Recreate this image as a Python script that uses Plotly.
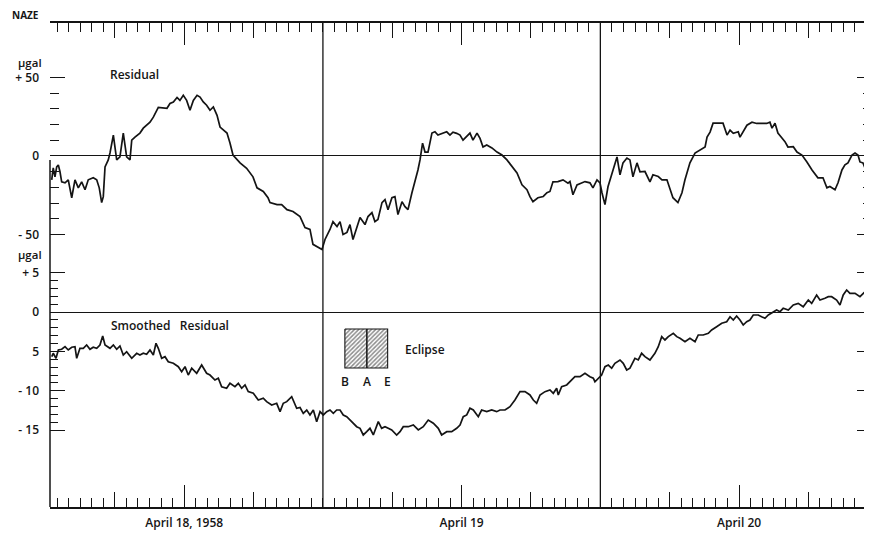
import plotly.graph_objects as go

# ---------------- data (hours since 00h April 18, 1958) ----------------
res_hours_a = [0.54, 0.67, 0.82, 0.97, 1.11, 1.25, 1.40, 1.69, 1.97, 2.27,
               2.55, 2.84, 3.13, 3.42, 3.70, 4.13, 4.43, 4.65, 4.86, 5.00,
               5.15, 5.43, 5.58, 5.87, 6.16, 6.44, 6.73, 7.02, 7.31, 7.46,
               7.74, 8.17, 8.46, 8.75, 9.04, 9.33, 9.76, 10.51, 10.77, 11.06,
               11.38, 11.63, 11.92, 12.21, 12.50, 12.79, 13.11, 13.37, 13.65, 13.94,
               14.23, 14.52, 14.84, 15.10, 15.38, 15.70, 15.96, 16.22, 16.83, 17.40,
               17.95, 18.30, 18.84, 19.25, 19.42, 20.03, 20.43, 20.89, 21.41, 21.84,
               22.02, 22.45, 22.88, 23.14, 23.57, 23.92]
res_values_a = [-15.2, -7.6, -13.3, -7.0, -5.7, -9.9, -16.5, -17.1, -15.2, -26.6,
                -15.2, -20.3, -16.5, -21.5, -15.2, -13.9, -15.2, -20.3, -29.7, -25.9,
                -7.0, -2.5, 1.9, 13.3, -2.5, -0.6, 14.6, -0.6, -2.5, 10.1,
                12.0, 14.6, 17.7, 19.6, 21.5, 24.7, 31.0, 30.4, 33.4, 34.4,
                37.3, 35.4, 38.6, 35.4, 29.1, 35.4, 38.6, 37.5, 34.4, 32.3,
                29.1, 31.2, 25.9, 18.4, 16.5, 14.6, 8.2, 0.6, -4.4, -7.8,
                -13.3, -20.3, -22.6, -26.6, -29.7, -31.0, -31.0, -34.2, -35.4, -37.3,
                -38.6, -45.6, -46.8, -56.3, -58.2, -59.5]
res_hours_b = [24.18, 24.61, 24.87, 25.22,
               25.48, 25.74, 26.08, 26.34, 26.60, 26.95, 27.21, 27.64, 27.90, 28.24,
               28.50, 28.76, 29.11, 29.37, 29.63, 29.97, 30.23, 30.49, 30.84, 31.10,
               31.36, 31.70, 31.96, 32.22, 32.40, 32.62, 32.83, 33.09, 33.43, 33.69,
               33.95, 34.41, 34.71, 34.99, 35.25, 35.57, 35.86, 36.12, 36.44, 36.72,
               36.98, 37.33, 37.59, 37.85, 38.17, 38.62, 39.06, 39.49, 39.92, 40.35,
               40.79, 41.22, 41.65, 41.91, 42.17, 42.60, 43.06, 43.38, 43.64, 43.90,
               44.33, 44.77, 45.20, 45.37, 45.63, 45.98, 46.41, 46.67, 47.10, 47.36,
               47.71, 47.97]
res_values_b = [-53.2, -46.8, -41.8, -44.9,
                -41.8, -50.0, -48.7, -43.7, -53.2, -44.9, -39.2, -43.7, -38.6, -36.1,
                -41.8, -40.5, -29.7, -27.8, -34.2, -26.6, -25.9, -37.3, -29.1, -32.3,
                -34.2, -23.4, -16.5, -8.9, -2.5, 8.2, 2.5, 2.5, 14.6, 15.4,
                13.3, 14.4, 15.4, 13.3, 15.2, 14.4, 13.3, 10.1, 12.2, 14.6,
                10.1, 14.6, 11.2, 5.7, 7.0, 5.1, 2.5, 0.6, -2.5, -7.0,
                -10.8, -18.4, -21.5, -25.9, -29.1, -26.6, -25.8, -23.4, -22.6, -16.5,
                -16.3, -15.2, -17.3, -16.3, -24.7, -18.4, -17.1, -16.3, -17.1, -20.3,
                -15.2, -17.1]
res_hours_c = [48.14, 48.40, 48.66, 49.01, 49.27, 49.44, 49.70, 49.96,
               50.30, 50.56, 50.82, 51.17, 51.43, 51.86, 52.29, 52.55, 53.01, 53.33,
               53.76, 54.02, 54.28, 54.71, 55.06, 55.32, 55.75, 56.19, 56.62, 57.06,
               57.23, 57.49, 57.75, 58.18, 58.61, 58.96, 59.22, 59.50, 59.93, 60.08,
               60.36, 60.68, 61.12, 61.52, 61.95, 62.39, 62.67, 62.85, 63.11, 63.36,
               63.71, 63.97, 64.23, 64.69, 65.01, 65.44, 65.87, 66.31, 66.82, 67.26,
               67.60, 67.86, 68.30, 68.56, 68.90, 69.16, 69.42, 69.77, 70.03, 70.29,
               70.46, 70.72, 71.07, 71.33]
res_values_c = [-23.4, -31.0, -19.6, -10.8, -4.4, -0.6, -12.0, -4.4,
                -1.3, -2.5, -13.3, -4.4, -10.1, -9.9, -16.5, -12.0, -13.1, -15.2,
                -15.2, -21.5, -26.6, -29.7, -23.4, -15.2, -4.4, 1.9, 3.8, 5.7,
                12.0, 15.2, 20.9, 20.9, 20.9, 13.3, 16.5, 14.4, 15.4, 12.0,
                15.4, 19.6, 21.5, 20.7, 20.7, 20.7, 21.5, 17.7, 20.9, 14.6,
                11.4, 9.1, 5.7, 5.9, 2.5, 0.6, -3.8, -8.9, -13.9, -13.9,
                -20.3, -19.4, -21.5, -17.1, -8.9, -5.7, -4.4, 0.6, 1.9, 0.6,
                -3.8, -4.4, -10.8, -7.6]

sm_hours_a = [0.54, 0.67, 0.91, 1.11, 1.40, 1.69, 1.97, 2.27, 2.55, 2.70,
              2.98, 3.27, 3.56, 3.85, 4.13, 4.43, 4.71, 4.95, 5.15, 5.58,
              5.87, 6.16, 6.44, 6.73, 7.02, 7.46, 7.89, 8.17, 8.46, 8.75,
              9.04, 9.33, 9.56, 9.76, 10.05, 10.34, 10.62, 11.06, 11.49, 11.78,
              12.07, 12.35, 12.65, 13.08, 13.51, 13.94, 14.23, 14.66, 14.95, 15.24,
              15.67, 15.96, 16.39, 16.68, 16.97, 17.26, 17.54, 17.98, 18.41, 18.84,
              19.13, 19.57, 20.00, 20.29, 20.57, 20.87, 21.30, 21.73, 22.02, 22.30,
              22.60, 22.88, 23.17, 23.46, 23.75]
sm_values_a = [-5.67, -5.24, -5.88, -4.82, -4.73, -4.40, -4.82, -4.48, -4.40, -5.88,
               -4.61, -4.61, -4.19, -4.73, -4.48, -4.61, -4.19, -3.05, -4.19, -4.61,
               -4.19, -4.73, -4.31, -5.46, -5.04, -5.88, -5.24, -5.46, -5.24, -5.37,
               -4.82, -5.46, -3.97, -4.61, -5.88, -5.67, -6.31, -6.51, -6.94, -7.58,
               -6.94, -8.00, -7.14, -7.78, -6.73, -7.78, -8.00, -8.63, -8.41, -9.48,
               -9.68, -9.05, -9.48, -9.05, -9.68, -9.26, -10.11, -10.32, -11.17, -10.95,
               -11.38, -11.80, -11.59, -12.65, -11.59, -11.38, -10.75, -12.22, -12.12, -12.86,
               -12.44, -13.07, -12.44, -13.92, -12.65]
sm_hours_b = [24.03, 24.33, 24.61, 24.90, 25.19,
              25.48, 25.76, 26.06, 26.34, 26.63, 26.92, 27.21, 27.49, 27.79, 28.07,
              28.36, 28.79, 29.08, 29.37, 29.65, 29.95, 30.38, 30.67, 30.95, 31.38,
              31.82, 32.25, 32.68, 33.11, 33.55, 33.98, 34.27, 34.71, 35.14, 35.57,
              35.86, 36.14, 36.44, 36.72, 37.01, 37.44, 37.73, 38.17, 38.60, 39.03,
              39.32, 39.75, 40.18, 40.61, 41.05, 41.48, 41.91, 42.20, 42.49, 42.78,
              43.21, 43.64, 43.93, 44.22, 44.36, 44.65, 45.09, 45.37, 45.80, 46.24,
              46.67, 47.10, 47.39, 47.53, 47.82]
sm_values_b = [-13.07, -12.65, -12.44, -12.86, -12.44,
               -12.44, -13.07, -13.29, -13.71, -14.12, -14.56, -14.76, -15.61, -15.19, -14.76,
               -15.61, -13.92, -14.76, -14.56, -14.76, -14.97, -15.61, -15.19, -14.56, -14.56,
               -14.34, -14.97, -14.56, -13.71, -14.12, -14.76, -15.61, -15.19, -15.19, -14.76,
               -14.34, -13.29, -13.07, -12.22, -12.44, -13.29, -12.44, -12.65, -12.44, -12.65,
               -12.44, -12.44, -12.02, -11.17, -10.11, -10.11, -10.53, -11.17, -11.59, -10.53,
               -10.11, -9.90, -10.32, -9.68, -10.53, -9.48, -9.26, -8.85, -8.21, -8.21,
               -7.78, -8.21, -8.41, -8.85, -8.41]
sm_hours_c = [48.11, 48.40, 48.69, 48.98, 49.26,
              49.70, 49.98, 50.28, 50.56, 50.99, 51.28, 51.57, 51.86, 52.29, 52.72,
              53.01, 53.31, 53.59, 53.88, 54.31, 54.61, 54.89, 55.32, 55.75, 56.19,
              56.47, 56.90, 57.34, 57.63, 58.06, 58.50, 58.93, 59.22, 59.50, 59.79,
              60.08, 60.36, 60.66, 60.94, 61.23, 61.66, 61.95, 62.24, 62.53, 62.82,
              63.25, 63.54, 63.82, 64.26, 64.69, 65.12, 65.55, 65.99, 66.28, 66.71,
              67.00, 67.43, 67.72, 68.01, 68.44, 68.73, 69.01, 69.31, 69.59, 70.03,
              70.46, 70.75, 71.04, 71.33]
sm_values_c = [-8.00, -6.94, -6.73, -7.14, -6.51,
               -6.09, -6.51, -7.36, -7.14, -5.88, -6.09, -5.24, -5.67, -6.09, -5.24,
               -4.40, -3.13, -3.55, -3.13, -2.70, -3.13, -3.34, -3.77, -3.34, -3.77,
               -2.92, -2.92, -2.70, -2.28, -1.87, -1.43, -1.23, -0.60, -1.02, -0.51,
               -1.02, -1.65, -1.23, -1.02, -0.38, -0.38, -0.60, -0.80, -0.38, -0.16,
               0.25, 0.04, 0.47, 0.25, 0.89, 1.10, 0.67, 1.52, 1.10, 2.16,
               1.52, 1.74, 1.94, 1.94, 1.52, 0.89, 2.16, 2.79, 2.37, 2.37,
               1.94, 2.37, 2.79, 2.58]

res_hours = res_hours_a + res_hours_b + res_hours_c
res_values = res_values_a + res_values_b + res_values_c
sm_hours = sm_hours_a + sm_hours_b + sm_hours_c
sm_values = sm_values_a + sm_values_b + sm_values_c
assert len(res_hours) == len(res_values), (len(res_hours), len(res_values))
assert len(sm_hours) == len(sm_values), (len(sm_hours), len(sm_values))

day_ticks = [12, 36, 60]
day_labels = ["April 18, 1958", "April 19", "April 20"]
day_bounds = [24, 48]
six_hour_ticks = [6, 18, 30, 42, 54, 66]

res_tickvals = [-50, 0, 50]
res_ticktext = ["- 50", "0", "+ 50"]
res_minor = [-40, -30, -20, -10, 10, 20, 30, 40]
sm_tickvals = [-15, -10, -5, 0, 5]
sm_ticktext = ["- 15", "- 10", "5", "0", "+ 5"]
sm_minor = [v for v in range(-14, 5) if v % 5 != 0]

eclipse_times = [25.9, 27.8, 29.6]      # B, A, E
eclipse_labels = ["B", "A", "E"]
eclipse_box = [-2.16, -7.11]            # in smoothed-residual units

# ---------------- layout geometry ----------------
# the html body has an 8 px margin; the figure is sized so the plot area lands
# where the reference has it in the 872x538 window
BODY = 8
W, H = 864, 530
ML, MR, MT, MB = 42, 0, 15, 31
PW, PH = W - ML - MR, H - MT - MB
X_RANGE = [0.39, 71.5]
Y1_RANGE = [-223.6, 84.7]
Y2_RANGE = [-24.75, 36.68]

FONT = "Open Sans"
INK = "#141414"
TXT = "#151515"

def px_x(p):
    return (p - BODY - ML) / PW

def px_y(p):
    return (H - MB - (p - BODY)) / PH

fig = go.Figure()

fig.add_trace(go.Scatter(x=res_hours, y=res_values, mode="lines",
                         line=dict(color=INK, width=1.7), xaxis="x", yaxis="y",
                         showlegend=False, hoverinfo="skip"))
fig.add_trace(go.Scatter(x=sm_hours, y=sm_values, mode="lines",
                         line=dict(color=INK, width=1.7), xaxis="x", yaxis="y2",
                         showlegend=False, hoverinfo="skip"))
# eclipse hatched box
b, a, e = eclipse_times
top, bot = eclipse_box
fig.add_trace(go.Scatter(x=[b, e, e, b, b], y=[top, top, bot, bot, top], mode="lines",
                         fill="toself", fillcolor="white",
                         fillpattern=dict(shape="/", fgcolor="#1a1a1a", bgcolor="white",
                                          size=3, solidity=0.5),
                         line=dict(color=INK, width=1.1), xaxis="x", yaxis="y2",
                         showlegend=False, hoverinfo="skip"))
fig.add_trace(go.Scatter(x=[a, a], y=[top, bot], mode="lines",
                         line=dict(color=INK, width=1.5), xaxis="x", yaxis="y2",
                         showlegend=False, hoverinfo="skip"))
# dummy trace to activate the 6-hour tick axis
fig.add_trace(go.Scatter(x=[six_hour_ticks[0]], y=[None], mode="lines", xaxis="x2", yaxis="y",
                         showlegend=False, hoverinfo="skip"))

tickfont = dict(family=FONT, size=12, color=TXT, weight=600)

fig.update_layout(
    width=W, height=H,
    margin=dict(l=ML, r=MR, t=MT, b=MB, pad=0),
    paper_bgcolor="white", plot_bgcolor="white",
    showlegend=False,
    xaxis=dict(range=X_RANGE, showgrid=False, zeroline=False,
               showline=True, linecolor=INK, linewidth=1.5, mirror="ticks",
               ticks="inside", ticklen=22, tickwidth=1.3, tickcolor=INK,
               tickmode="array", tickvals=day_ticks, ticktext=day_labels,
               tickfont=tickfont, ticklabelstandoff=4,
               minor=dict(tickmode="linear", tick0=0, dtick=1, ticks="inside",
                          ticklen=9, tickwidth=1.2, tickcolor=INK, showgrid=False)),
    xaxis2=dict(range=X_RANGE, overlaying="x", side="bottom", anchor="y",
                showgrid=False, zeroline=False, showline=False, mirror="ticks",
                ticks="inside", ticklen=15, tickwidth=1.3, tickcolor=INK,
                tickmode="array", tickvals=six_hour_ticks, showticklabels=False),
    yaxis=dict(range=Y1_RANGE, showgrid=False, showline=False, mirror="ticks",
               zeroline=True, zerolinecolor=INK, zerolinewidth=1.4,
               ticks="inside", ticklen=15, tickwidth=1.3, tickcolor=INK,
               tickmode="array", tickvals=res_tickvals, ticktext=res_ticktext,
               tickfont=tickfont, ticklabelstandoff=10,
               minor=dict(tickmode="array", tickvals=res_minor, ticks="inside",
                          ticklen=9, tickwidth=1.2, tickcolor=INK, showgrid=False)),
    yaxis2=dict(range=Y2_RANGE, overlaying="y", side="left", anchor="x",
                showgrid=False, showline=False, mirror="ticks",
                zeroline=True, zerolinecolor=INK, zerolinewidth=1.4,
                ticks="inside", ticklen=15, tickwidth=1.3, tickcolor=INK,
                tickmode="array", tickvals=sm_tickvals, ticktext=sm_ticktext,
                tickfont=tickfont, ticklabelstandoff=10,
                minor=dict(tickmode="array", tickvals=sm_minor, ticks="inside",
                           ticklen=8, tickwidth=1.2, tickcolor=INK, showgrid=False)),
)

shapes = []
for d in day_bounds:
    shapes.append(dict(type="line", xref="x", yref="paper", x0=d, x1=d, y0=0, y1=1,
                       line=dict(color=INK, width=1.3)))
shapes.append(dict(type="line", xref="paper", yref="y", x0=0, x1=0, y0=-2.5, y1=Y1_RANGE[0],
                   line=dict(color=INK, width=1.5)))
fig.update_layout(shapes=shapes)

ann = []
def text(t, x, y, xref, yref, size=12, xanchor="center", weight=600):
    ann.append(dict(text=t, x=x, y=y, xref=xref, yref=yref,
                    showarrow=False, xanchor=xanchor, yanchor="middle",
                    font=dict(family=FONT, size=size, color=TXT, weight=weight)))

text("NAZE", px_x(25), px_y(15), "paper", "paper", size=10, weight=700)
text("\u00b5gal", px_x(30), px_y(62), "paper", "paper", size=11.5)
text("\u00b5gal", px_x(30), px_y(254), "paper", "paper", size=11.5)
text("Residual", 7.74, 52, "x", "y")
text("Smoothed\u00a0\u00a0\u00a0Residual", 10.8, -1.65, "x", "y2")
text("Eclipse", 30.9, -4.82, "x", "y2", xanchor="left")
for t, lab in zip(eclipse_times, eclipse_labels):
    text(lab, t, -8.88, "x", "y2")
fig.update_layout(annotations=ann)

fig.write_html("out.html")
